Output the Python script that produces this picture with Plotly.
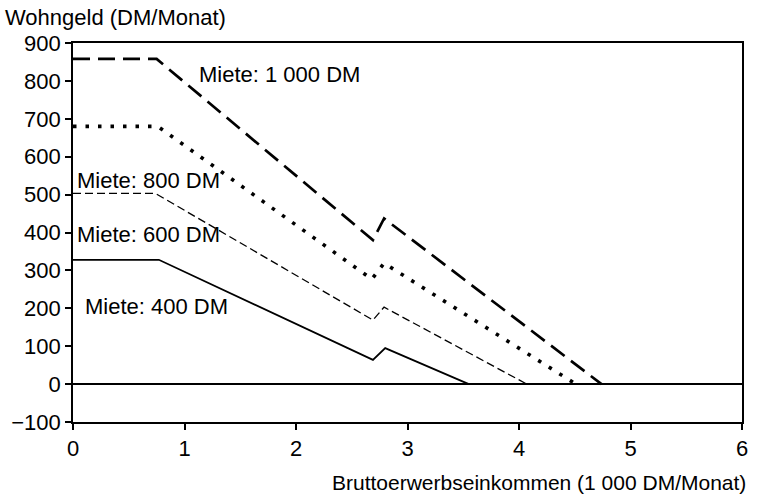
import plotly.graph_objects as go

x_400 = [0, 0.77, 2.69, 2.80, 3.55]
y_400 = [328, 328, 64, 95, 0]
x_600 = [0, 0.74, 2.69, 2.79, 4.07]
y_600 = [503, 503, 169, 203, 0]
x_800 = [0, 0.76, 2.68, 2.79, 4.51]
y_800 = [680, 680, 277, 319, 0]
x_1000 = [0, 0.75, 2.69, 2.79, 4.74]
y_1000 = [858, 858, 380, 437, 0]

labels = ["Miete: 400 DM", "Miete: 600 DM", "Miete: 800 DM", "Miete: 1 000 DM"]
label_x = [0.105, 0.04, 0.04, 1.127]
label_y = [204, 395, 538, 817]

x_ticks = [0, 1, 2, 3, 4, 5, 6]
y_ticks = [-100, 0, 100, 200, 300, 400, 500, 600, 700, 800, 900]

font = "Liberation Sans, Arial, sans-serif"

fig = go.Figure()
fig.add_trace(go.Scatter(x=x_1000, y=y_1000, mode="lines",
                         line=dict(color="black", width=2.7, dash="17px,8px")))
fig.add_trace(go.Scatter(x=x_800, y=y_800, mode="lines",
                         line=dict(color="black", width=3.6, dash="3.5px,9px")))
fig.add_trace(go.Scatter(x=x_600, y=y_600, mode="lines",
                         line=dict(color="black", width=1.3, dash="8px,4px")))
fig.add_trace(go.Scatter(x=x_400, y=y_400, mode="lines",
                         line=dict(color="black", width=1.8)))

for t, lx, ly in zip(labels, label_x, label_y):
    fig.add_annotation(x=lx, y=ly, text=t, showarrow=False, xanchor="left",
                       yanchor="middle", xshift=-2,
                       font=dict(size=22, color="black", family=font))

fig.add_annotation(xref="paper", yref="paper", x=0, y=1.0, xshift=-70, yshift=26,
                   text="Wohngeld (DM/Monat)", showarrow=False, xanchor="left",
                   yanchor="middle", font=dict(size=22, color="black", family=font))
fig.add_annotation(xref="paper", yref="paper", x=1.0, y=0, xshift=6, yshift=-60,
                   text="Bruttoerwerbseinkommen (1 000 DM/Monat)", showarrow=False,
                   xanchor="right", yanchor="middle",
                   font=dict(size=21, color="black", family=font))

fig.update_layout(
    width=759, height=494,
    margin=dict(l=73, r=11, t=43, b=72),
    paper_bgcolor="white", plot_bgcolor="white",
    showlegend=False,
    font=dict(family=font, color="black", size=22),
    xaxis=dict(range=[0, 6], tickvals=x_ticks, ticks="outside", ticklen=6,
               tickwidth=1.5, tickcolor="black", showline=True, linecolor="black",
               linewidth=1.8, mirror=True, showgrid=False, zeroline=False,
               tickfont=dict(size=22)),
    yaxis=dict(range=[-100, 900], tickvals=y_ticks,
               ticktext=["\u2212100"] + [str(v) for v in y_ticks[1:]],
               ticks="outside", ticklen=6, tickwidth=1.5, tickcolor="black",
               showline=True, linecolor="black", linewidth=1.8, mirror=True,
               showgrid=False, zeroline=True, zerolinecolor="black",
               zerolinewidth=1.5, tickfont=dict(size=22)),
)

fig.write_html("out.html", config={"displayModeBar": False},
               post_script="document.body.style.margin='0';document.body.style.overflow='hidden';")
